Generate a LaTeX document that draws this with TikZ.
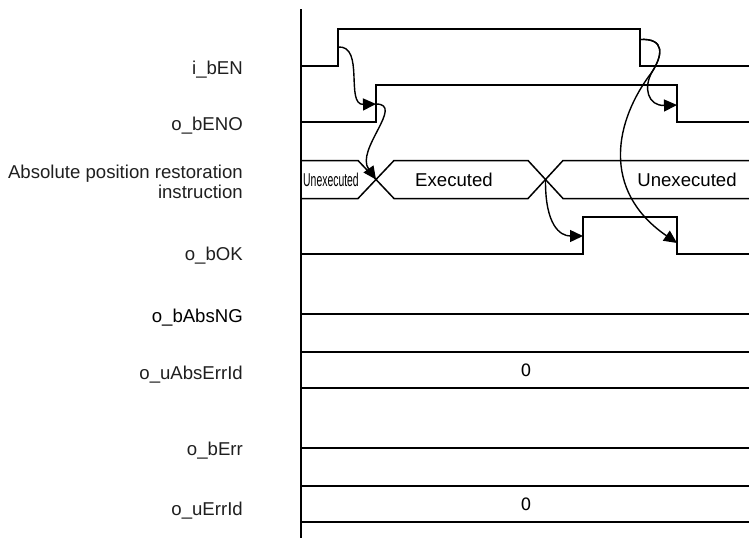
\documentclass[tikz,border=0pt]{standalone}
\usepackage{fontspec}
\setmainfont{Liberation Sans}
\newfontfamily\zerofont{DejaVu Sans}
\usetikzlibrary{arrows.meta}
\begin{document}
\begin{tikzpicture}[x=1pt,y=-1pt,
  sig/.style={line width=1.5pt, line join=miter},
  lbl/.style={anchor=base east, inner sep=0pt, text=black!88, font=\fontsize{18.6}{20}\selectfont},
  val/.style={anchor=base, inner sep=0pt, font=\fontsize{18.6}{20}\selectfont},
  zval/.style={anchor=base, inner sep=0pt, font=\zerofont\fontsize{17}{20}\selectfont},
  cause/.style={line width=1.4pt, -{Triangle[length=13pt,width=12pt]}}]
\useasboundingbox (0,0) rectangle (749,538);

% labels
\node[lbl] (lEN)   at (243,74.3) {i\_bEN};
\node[lbl] (lENO)  at (243,130.7) {o\_bENO};
\node[lbl] (lINS)  at (243,178) {\vtop{\halign{\hfil#\cr Absolute position restoration\cr instruction\cr}}};
\node[lbl] (lOK)   at (243,260) {o\_bOK};
\node[lbl, text=black] (lNG) at (243,322) {o\_bAbsNG};
\node[lbl] (lAEI)  at (243,379.5) {o\_uAbsErrId};
\node[lbl] (lErr)  at (243,455) {o\_bErr};
\node[lbl] (lEI)   at (243,515.5) {o\_uErrId};

% axis
\draw[sig] (301,9) -- (301,538);

% i_bEN
\draw[sig] (301,66) -- (338,66) -- (338,29) -- (640,29) -- (640,66) -- (749,66);
% o_bENO
\draw[sig] (301,122) -- (376,122) -- (376,85) -- (677,85) -- (677,122) -- (749,122);
% instruction bus
\draw[sig] (301,160.5) -- (358,160.5) -- (394,198.5) -- (528,198.5) -- (563,160.5) -- (749,160.5);
\draw[sig] (301,198.5) -- (358,198.5) -- (394,160.5) -- (528,160.5) -- (563,198.5) -- (749,198.5);
\node[val] (vU1) at (331,186) {\scalebox{0.56}[1]{Unexecuted}};
\node[val] (vE)  at (454,186) {Executed};
\node[val] (vU2) at (687,186) {Unexecuted};
% o_bOK
\draw[sig] (301,254) -- (583,254) -- (583,217) -- (677,217) -- (677,254) -- (749,254);
% o_bAbsNG
\draw[sig] (301,314) -- (749,314);
% o_uAbsErrId
\draw[sig] (301,352) -- (749,352);
\draw[sig] (301,388) -- (749,388);
\node[zval] (z1) at (526,376.5) {0};
% o_bErr
\draw[sig] (301,448) -- (749,448);
% o_uErrId
\draw[sig] (301,486) -- (749,486);
\draw[sig] (301,522) -- (749,522);
\node[zval] (z2) at (526,510) {0};

% edge points
\coordinate (enR)  at (338,47);
\coordinate (enF)  at (640,39.5);
\coordinate (enoR) at (376,104);
\coordinate (enoF) at (677,105);
\coordinate (x1)   at (376,179.5);
\coordinate (x2)   at (545.5,179.5);
\coordinate (okR)  at (583,236);
\coordinate (okF)  at (677,243);

% causal arrows
\draw[cause] (enR) .. controls (365,45) and (345,105) .. (enoR);
\draw[cause] (enoR) .. controls (405,104) and (355,150) .. (x1);
\draw[cause] (x2) .. controls (545,225) and (560,236) .. (okR);
\draw[cause] (enF) .. controls (665,38) and (663,55) .. (652,72) .. controls (643,88) and (648,106) .. (enoF);
\draw[cause] (enF) .. controls (665,38) and (663,55) .. (652,72) .. controls (615,120) and (600,190) .. (okF);
\end{tikzpicture}
\end{document}
